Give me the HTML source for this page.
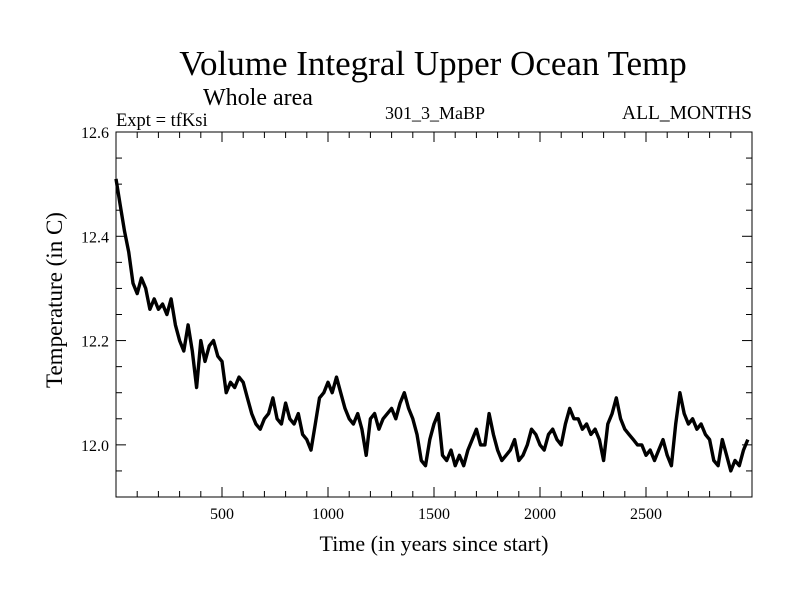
<!DOCTYPE html>
<html><head><meta charset="utf-8"><style>
body{margin:0;background:#fff;}
svg text{font-family:"Liberation Serif",serif;fill:#000;}
</style></head><body>
<svg id="chart" width="800" height="600" xmlns="http://www.w3.org/2000/svg">
<text x="433" y="75" font-size="35" text-anchor="middle">Volume Integral Upper Ocean Temp</text>
<text x="203" y="105" font-size="24">Whole area</text>
<text x="116" y="126" font-size="18.5">Expt = tfKsi</text>
<text x="435" y="119" font-size="18" text-anchor="middle">301_3_MaBP</text>
<text x="752" y="119" font-size="19.5" text-anchor="end">ALL_MONTHS</text>
<text transform="translate(62,300) rotate(-90)" font-size="23" text-anchor="middle">Temperature (in C)</text>
<text x="434" y="551" font-size="22" text-anchor="middle">Time (in years since start)</text>
<g id="axes"></g>
<g id="series"></g>
</svg>
<script>
const yearStart = 0;
const yearStep = 20;
const temps = [12.51,12.46,12.41,12.37,12.31,12.29,12.32,12.30,12.26,12.28,12.26,12.27,12.25,12.28,12.23,12.20,12.18,12.23,12.18,12.11,
12.20,12.16,12.19,12.20,12.17,12.16,12.10,12.12,12.11,12.13,12.12,12.09,12.06,12.04,12.03,12.05,12.06,12.09,12.05,12.04,
12.08,12.05,12.04,12.06,12.02,12.01,11.99,12.04,12.09,12.10,12.12,12.10,12.13,12.10,12.07,12.05,12.04,12.06,12.03,11.98,
12.05,12.06,12.03,12.05,12.06,12.07,12.05,12.08,12.10,12.07,12.05,12.02,11.97,11.96,12.01,12.04,12.06,11.98,11.97,11.99,
11.96,11.98,11.96,11.99,12.01,12.03,12.00,12.00,12.06,12.02,11.99,11.97,11.98,11.99,12.01,11.97,11.98,12.00,12.03,12.02,
12.00,11.99,12.02,12.03,12.01,12.00,12.04,12.07,12.05,12.05,12.03,12.04,12.02,12.03,12.01,11.97,12.04,12.06,12.09,12.05,
12.03,12.02,12.01,12.00,12.00,11.98,11.99,11.97,11.99,12.01,11.98,11.96,12.04,12.10,12.06,12.04,12.05,12.03,12.04,12.02,
12.01,11.97,11.96,12.01,11.98,11.95,11.97,11.96,11.99,12.01];
const xTickLabels = [500,1000,1500,2000,2500];
const yTickLabels = ["12.0","12.2","12.4","12.6"];

const L=116,R=752,T=132,B=497;
const xMin=0,xMax=3000,yMin=11.9,yMax=12.6;
const sx=v=>L+(v-xMin)/(xMax-xMin)*(R-L);
const sy=v=>B-(v-yMin)/(yMax-yMin)*(B-T);
const NS="http://www.w3.org/2000/svg";
const axes=document.getElementById('axes');
function mk(tag,attrs,parent){const e=document.createElementNS(NS,tag);for(const k in attrs)e.setAttribute(k,attrs[k]);parent.appendChild(e);return e;}

const frame=mk('rect',{x:L,y:T,width:R-L,height:B-T,fill:'none',stroke:'#000','stroke-width':1},axes);



for(let yr=100;yr<xMax;yr+=100){
  const x=sx(yr),len=(yr%500===0)?10:6;
  const t1=mk('line',{x1:x,y1:B,x2:x,y2:B-len,stroke:'#000'},axes);
  
  
  const t2=mk('line',{x1:x,y1:T,x2:x,y2:T+len,stroke:'#000'},axes);
  
  
}
xTickLabels.forEach(v=>{
  const t=mk('text',{x:sx(v),y:B+22,'font-size':16,'text-anchor':'middle'},axes);
  t.textContent=v;
  
  
});
for(let i=1;i<14;i++){
  const v=yMin+i*0.05,y=sy(v),len=(i%4===2)?10:6;
  const t1=mk('line',{x1:L,y1:y,x2:L+len,y2:y,stroke:'#000'},axes);
  
  
  const t2=mk('line',{x1:R,y1:y,x2:R-len,y2:y,stroke:'#000'},axes);
  
  
}
yTickLabels.forEach(s=>{
  const t=mk('text',{x:L-7,y:sy(parseFloat(s))+6,'font-size':16,'text-anchor':'end'},axes);
  t.textContent=s;
  
  
});

const pts=temps.map((v,i)=>sx(yearStart+i*yearStep).toFixed(1)+','+sy(v).toFixed(1)).join(' ');
const line=mk('polyline',{points:pts,fill:'none',stroke:'#000','stroke-width':3.4,'stroke-linejoin':'round'},document.getElementById('series'));


</script>
</body></html>
